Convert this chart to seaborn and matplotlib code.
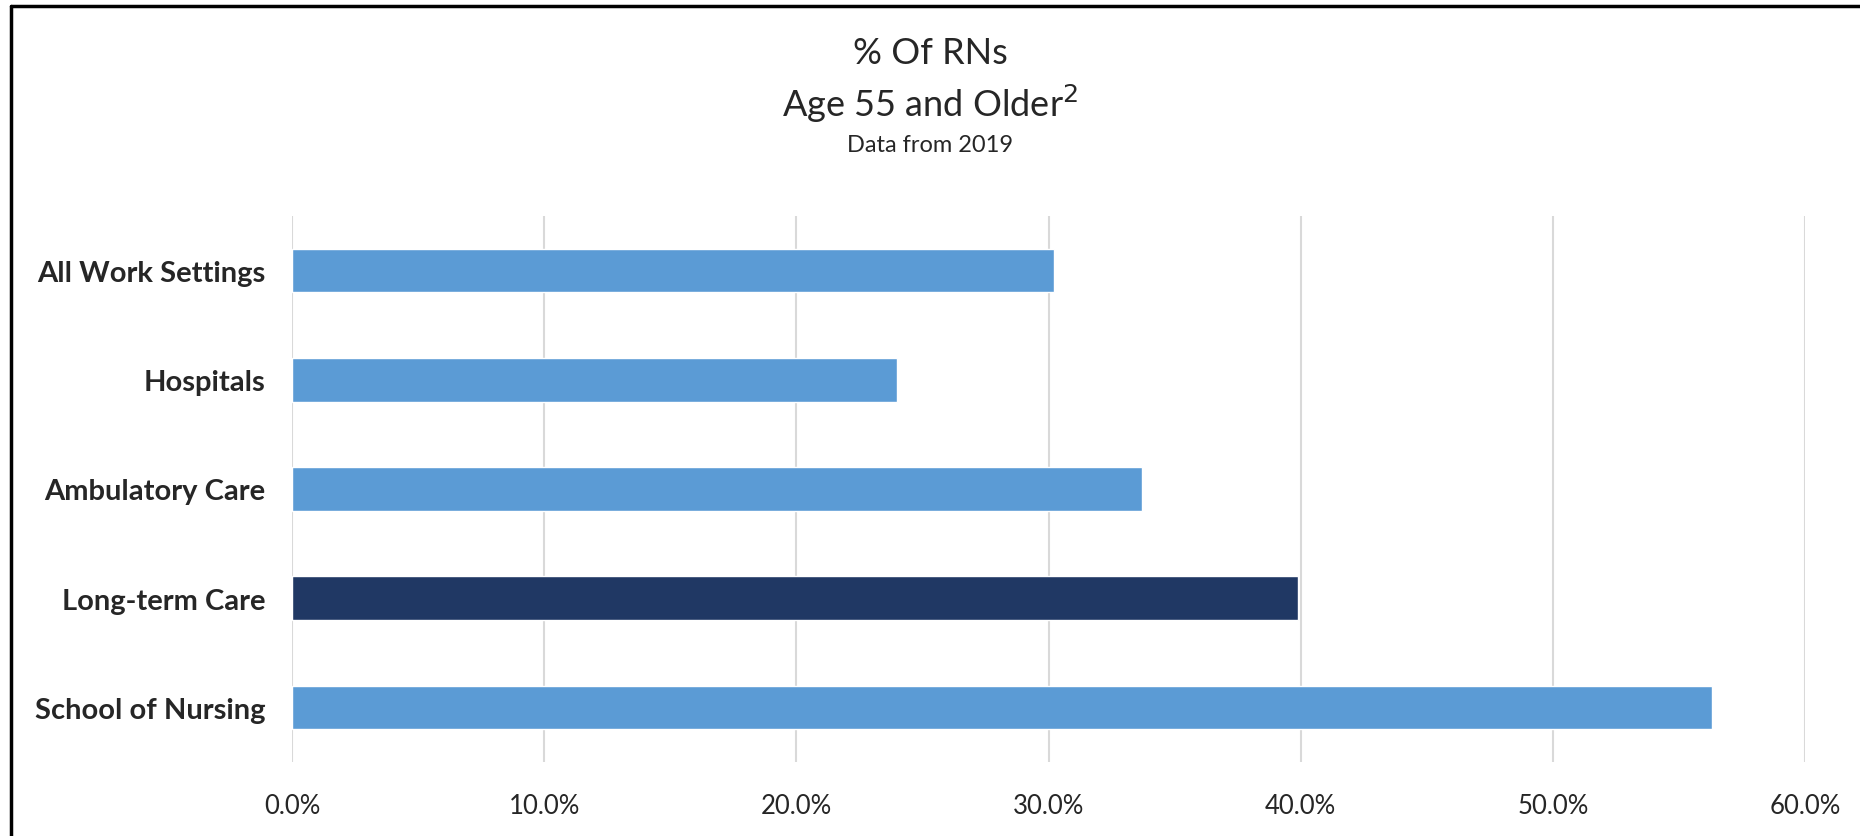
"""
Horizontal bar chart: share of RNs aged 55 and older by work setting.
"""

import matplotlib.pyplot as plt
import seaborn as sns
import pandas as pd
from matplotlib.lines import Line2D
from matplotlib.ticker import PercentFormatter

settings = [
    "All Work Settings",
    "Hospitals",
    "Ambulatory Care",
    "Long-term Care",
    "School of Nursing",
]
pct_55_plus = [30.2, 24.0, 33.7, 39.9, 56.3]
bar_colors = ["#5B9BD5", "#5B9BD5", "#5B9BD5", "#203864", "#5B9BD5"]
x_ticks = [0, 10, 20, 30, 40, 50, 60]

sns.set_style("white")
plt.rcParams["font.family"] = ["Lato", "DejaVu Sans"]

df = pd.DataFrame({"setting": settings, "pct": pct_55_plus})

fig = plt.figure(figsize=(18.6, 8.37), dpi=100)
ax = fig.add_axes([292 / 1860, 1 - 763 / 837, (1805 - 292) / 1860, (763 - 217) / 837])

sns.barplot(
    data=df,
    x="pct",
    y="setting",
    hue="setting",
    palette=bar_colors,
    order=settings,
    hue_order=settings,
    width=0.4,
    saturation=1,
    legend=False,
    ax=ax,
    zorder=3,
)

ax.set_xlim(0, 60)
ax.set_ylim(4.5, -0.5)
ax.set_xticks(x_ticks)
ax.xaxis.set_major_formatter(PercentFormatter(decimals=1))
ax.grid(axis="x", color="#D9D9D9", linewidth=1.5, zorder=0)
ax.grid(axis="y", visible=False)
for side in ["top", "right", "bottom", "left"]:
    ax.spines[side].set_visible(False)
ax.tick_params(axis="x", length=0, pad=22, labelsize=18.5, colors="#262626")
ax.tick_params(axis="y", length=0, pad=19)
for lbl in ax.get_yticklabels():
    lbl.set_fontsize(21)
    lbl.set_fontweight("bold")
ax.set_xlabel("")
ax.set_ylabel("")

# titles
fig.text(0.5, 1 - 53 / 837, "% Of RNs", ha="center", va="center", fontsize=26)
fig.text(0.5, 1 - 104 / 837, "Age 55 and Older$^2$", ha="center", va="center", fontsize=26)
fig.text(0.5, 1 - 145 / 837, "Data from 2019", ha="center", va="center", fontsize=17)

# frame of the original slide (top and left edges only)
fig.add_artist(Line2D([11 / 1860, 1], [1 - 7 / 837, 1 - 7 / 837], color="black", linewidth=2.5))
fig.add_artist(Line2D([11 / 1860, 11 / 1860], [0, 1 - 7 / 837], color="black", linewidth=2.5))

fig.savefig("out.png", dpi=100, facecolor="white")
plt.close(fig)
